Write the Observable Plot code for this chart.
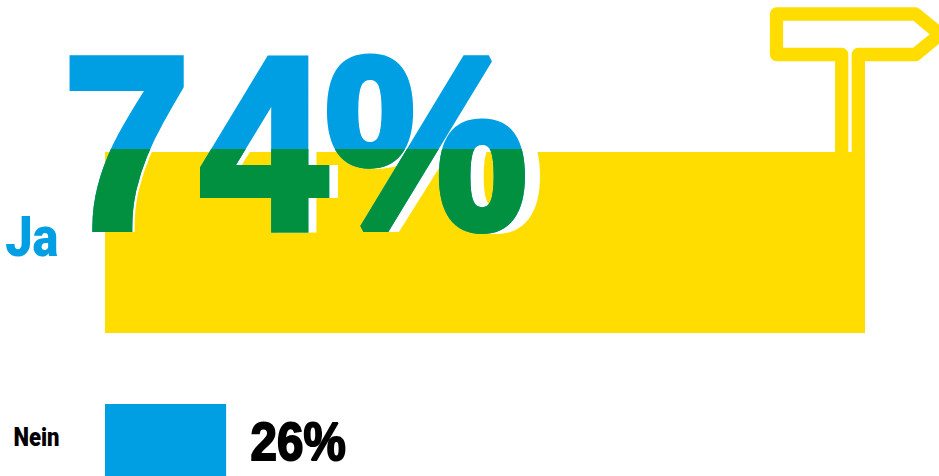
<!DOCTYPE html>
<html lang="de">
<head>
<meta charset="utf-8">
<title>Ja 74 %, Nein 26 %</title>
<script src="https://cdn.jsdelivr.net/npm/d3@7"></script>
<script src="https://cdn.jsdelivr.net/npm/@observablehq/plot@0.6"></script>
<style>
  html, body { margin: 0; padding: 0; background: #fff; overflow: hidden; }
  svg { display: block; }
</style>
</head>
<body>
<script>
// Voting result
const answers = ["Ja", "Nein"];
const shares = [74, 26];
const results = answers.map((answer, i) => ({answer, share: shares[i]}));
const [ja, nein] = results.map((d) => [d]);

const yellow = "#ffdd00";
const blue = "#009fe3";
const green = "#009040";
const grotesk = "'Liberation Sans', Arial, sans-serif";
const condensed = "Roboto, 'Liberation Sans', Arial, sans-serif";

// The value axis does not start at zero; bars grow from this baseline.
const baseline = 16.9;
const pct = (d) => `${d.share}%`;

// Horizontal stretch of a text mark around its anchor, with optional per-glyph kerning.
const stretch = (sx, kerning) => (index, scales, values, dims, ctx, next) => {
  const g = next(index, scales, values, dims, ctx);
  g.querySelectorAll("text").forEach((t) => {
    t.setAttribute("transform", `${t.getAttribute("transform") || ""} scale(${sx},1)`);
    if (kerning) t.setAttribute("dx", kerning);
  });
  return g;
};

// Same stretch, plus clipping to the large bar so the overprint turns green.
const overprint = (sx, kerning) => (index, scales, values, dims, ctx, next) => {
  const g = stretch(sx, kerning)(index, scales, values, dims, ctx, next);
  const ns = "http://www.w3.org/2000/svg";
  const clip = document.createElementNS(ns, "clipPath");
  clip.setAttribute("id", "ja-bar");
  const r = document.createElementNS(ns, "rect");
  r.setAttribute("x", scales.x(baseline));
  r.setAttribute("y", scales.y("Ja"));
  r.setAttribute("width", scales.x(74) - scales.x(baseline));
  r.setAttribute("height", scales.scales.y.bandwidth);
  clip.appendChild(r);
  const wrap = document.createElementNS(ns, "g");
  wrap.appendChild(clip);
  g.setAttribute("clip-path", "url(#ja-bar)");
  wrap.appendChild(g);
  return wrap;
};

// Signpost outline standing on the top right corner of the large bar.
const signpost = (index, {x, y}) => {
  const ox = x(74), oy = y("Ja");
  return d3.create("svg:path")
    .attr("transform", `translate(${ox},${oy})`)
    .attr("d", "M-23.3,0V-97.5H-88.5V-138H50.5L75,-117.7L50.5,-97.5H-6.7V0")
    .attr("fill", "none")
    .attr("stroke", yellow)
    .attr("stroke-width", 13.3)
    .attr("stroke-linejoin", "round")
    .node();
};

const bigLabel = {
  x: () => baseline,
  y: "answer",
  text: pct,
  textAnchor: "start",
  lineAnchor: "middle",
  fontFamily: grotesk,
  fontWeight: 700,
  fontSize: 246,
  strokeWidth: 8,
  strokeLinejoin: "miter",
  strokeMiterlimit: 2,
  dx: -42,
  dy: -94
};
const kerning = "0 11 -2";

const chart = Plot.plot({
  width: 939,
  height: 476,
  margin: 0,
  style: {background: "#fff"},
  x: {domain: [baseline, 74], range: [105, 865], axis: null},
  y: {domain: answers, range: [152, 585], paddingInner: 71 / 252, paddingOuter: 0, align: 0, round: false, axis: null},
  marks: [
    signpost,
    Plot.barX(ja, {y: "answer", x1: () => baseline, x2: "share", fill: yellow}),
    // The lower bar runs off the bottom edge of the page.
    Plot.barX(nein, {y: "answer", x1: () => baseline, x2: "share", fill: blue, insetBottom: 109}),
    Plot.text(ja, {...bigLabel, fill: "#fff", stroke: "#fff", render: stretch(0.955, kerning)}),
    Plot.text(ja, {...bigLabel, fill: blue, stroke: blue, render: stretch(0.925, kerning)}),
    Plot.text(ja, {...bigLabel, fill: green, stroke: green, render: overprint(0.925, kerning)}),
    Plot.text(ja, {
      x: () => baseline, y: "answer", text: "answer", textAnchor: "end", lineAnchor: "middle",
      fontFamily: condensed, fontWeight: 900, fontSize: 56, fill: blue,
      dx: -47, dy: -5, render: stretch(0.87)
    }),
    Plot.text(nein, {
      x: () => baseline, y: "answer", text: "answer", textAnchor: "end", lineAnchor: "middle",
      fontFamily: condensed, fontWeight: 900, fontSize: 26, fill: "#000",
      dx: -46, dy: -57, render: stretch(0.85)
    }),
    Plot.text(nein, {
      x: "share", y: "answer", text: pct, textAnchor: "start", lineAnchor: "middle",
      fontFamily: grotesk, fontWeight: 700, fontSize: 54, fill: "#000", stroke: "#000", strokeWidth: 2,
      strokeLinejoin: "miter", strokeMiterlimit: 2,
      dx: 24, dy: -52, render: stretch(0.88)
    })
  ]
});
document.body.appendChild(chart);
</script>
</body>
</html>
